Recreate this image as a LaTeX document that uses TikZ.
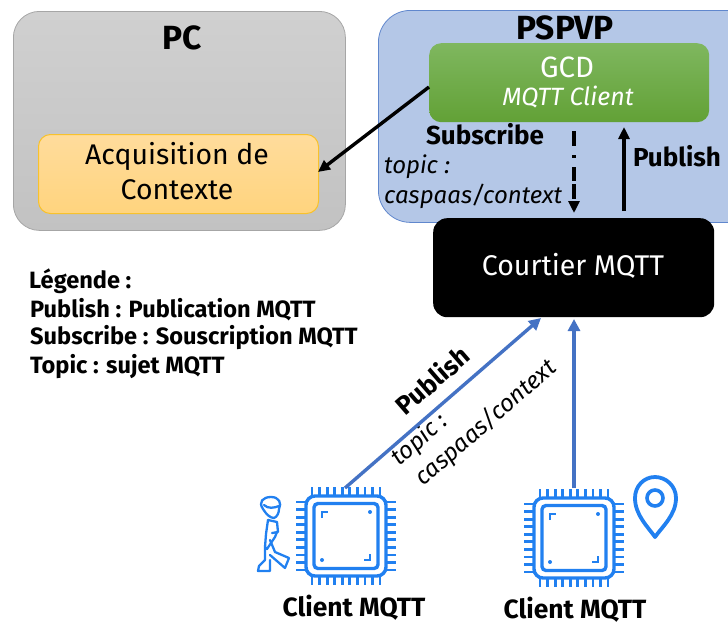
\documentclass[tikz,border=0pt]{standalone}
\usepackage{fontspec}
\setmainfont{Fira Sans}
\usetikzlibrary{arrows.meta,shadings}
\definecolor{chipblue}{HTML}{2180F0}
\definecolor{linkblue}{HTML}{4472C4}
\definecolor{pspblue}{HTML}{B4C7E7}
\definecolor{graytop}{HTML}{D0D0D0}
\definecolor{graybot}{HTML}{C2C2C2}
\definecolor{orgtop}{HTML}{FFDC9C}
\definecolor{orgbot}{HTML}{FFD47E}
\definecolor{orgline}{HTML}{F8C22C}
\definecolor{grntop}{HTML}{7FB75F}
\definecolor{grnbot}{HTML}{62A136}
\newcommand{\fs}[1]{\fontsize{#1}{#1}\selectfont}
\tikzset{
  x=1pt,y=-1pt,
  boxnode/.style={rounded corners=#1,inner sep=0pt,anchor=north west},
  txt/.style={inner sep=0pt,align=center,text=black},
  legend/.style={inner sep=0pt,anchor=west,font=\fs{23.6}\bfseries},
  clientlabel/.style={txt,font=\fs{26.4}\bfseries},
  tipblack/.style={-{Triangle[length=12pt,width=11pt]},line width=3.4pt,black},
  tipblue/.style={-{Triangle[length=12pt,width=12pt]},line width=3.4pt,linkblue},
  chipline/.style={draw=chipblue,line width=3.4pt},
  pins/.style={draw=chipblue,line width=2.8pt},
  pics/chip/.style n args={0}{code={
    \draw[chipline,rounded corners=9pt] (-40,-40) rectangle (40,40);
    \draw[chipline,rounded corners=4pt] (-32,-32.5) rectangle (32,32.5);
    \foreach \k in {-34,-26.4,-18.9,-11.3,-3.8,3.8,11.3,18.9,26.4,34}{
      \draw[pins] (\k,-40) -- (\k,-49);
      \draw[pins] (\k,40) -- (\k,49);
      \draw[pins] (-40,\k) -- (-50,\k);
      \draw[pins] (40,\k) -- (50,\k);
    }
    \draw[chipline,line width=2.6pt] (-24,-18) -- (-24,-24) -- (-18,-24);
    \draw[chipline,line width=2.6pt] (24,18) -- (24,24) -- (18,24);
    \fill[chipblue] (24,-24) circle (2pt) (-24,24) circle (2pt);
  }}
}
\begin{document}
\begin{tikzpicture}
\useasboundingbox (0,0) rectangle (728,624);
\begin{scope}
\clip (0,0) rectangle (728,624);
\node[boxnode=26pt,draw=black!35,line width=.8pt,top color=graytop,bottom color=graybot,minimum width=332pt,minimum height=219pt] (pc) at (13,11) {};
\node[boxnode=32pt,draw=linkblue!85,line width=.8pt,fill=pspblue,minimum width=390pt,minimum height=212pt] (pspvp) at (378,10) {};
\end{scope}
\node[boxnode=12pt,draw=orgline,line width=1pt,top color=orgtop,bottom color=orgbot,minimum width=280pt,minimum height=79pt] (acq) at (38,134) {};
\node[boxnode=12pt,top color=grntop,bottom color=grnbot,minimum width=280pt,minimum height=79pt] (gcd) at (429,43) {};
\node[boxnode=14pt,fill=black,minimum width=281pt,minimum height=99pt] (broker) at (433,218) {};
\node[txt,font=\fs{33.5}\bfseries] (pcl) at (182,38) {PC};
\node[txt,font=\fs{33.5}\bfseries] (pspl) at (565,28) {PSPVP};
\node[txt,text=white,font=\fs{29.4}] (gcdl) at (567,67) {GCD};
\node[txt,text=white,font=\fs{25}\itshape] (gcdm) at (568,97) {MQTT Client};
\node[txt,font=\fs{28.4}] (acql1) at (177,156) {Acquisition de};
\node[txt,font=\fs{28.4}] (acql2) at (177,190) {Contexte};
\node[txt,text=white,font=\fs{28.5}] (brl) at (573,266) {Courtier MQTT};
\node[txt,font=\fs{26}\bfseries] (sub) at (485,134) {Subscribe};
\node[txt,font=\fs{24}\itshape,anchor=west] (t1) at (384,167) {topic :};
\node[txt,font=\fs{24}\itshape,anchor=west] (t2) at (384,196) {caspaas/context};
\node[txt,font=\fs{26}\bfseries] (pub) at (677,156) {Publish};
\node[legend] (lg1) at (29,281) {Légende :};
\node[legend] (lg2) at (30,310) {Publish : Publication MQTT};
\node[legend] (lg3) at (30,338) {Subscribe : Souscription MQTT};
\node[legend] (lg4) at (30,367) {Topic : sujet MQTT};
\node[txt,font=\fs{26}\bfseries,rotate=41] (pubr) at (432,380) {Publish};
\node[txt,font=\fs{24}\itshape,rotate=41] (tr1) at (420,440) {topic :};
\node[txt,font=\fs{24}\itshape,rotate=41] (tr2) at (486,423) {caspaas/context};
\node[clientlabel] (c1) at (354,608) {Client MQTT};
\node[clientlabel] (c2) at (575,610) {Client MQTT};
\pic at (346,536) {chip};
\pic at (574,538) {chip};
\coordinate (c1top) at (345,488);
\coordinate (c2top) at (574,488);
\coordinate (b1) at (541,318);
\coordinate (b2) at (574,319);
\coordinate (gl) at (429,87);
\coordinate (ar) at (318,172);
\coordinate (gs) at (574,131);
\coordinate (bs) at (574,213);
\coordinate (bp) at (624,211);
\coordinate (gp) at (624,127);
\draw[tipblue] (c1top) -- (b1);
\draw[tipblue] (c2top) -- (b2);
\draw[tipblack] (gl) -- (ar);
\draw[tipblack,dash pattern=on 15pt off 9pt on 3pt off 9pt on 14pt off 3pt] (gs) -- (bs);
\draw[tipblack] (bp) -- (gp);
% location marker
\draw[chipblue,line width=3.8pt,line join=round] (655,537) .. controls (648,527) and (635,515) .. (635,498) .. controls (635,486) and (644,477) .. (655,477) .. controls (666,477) and (676,486) .. (676,498) .. controls (676,515) and (662,527) .. (655,537) -- cycle;
\draw[chipblue,line width=3.6pt] (655,498) circle (8pt);
% walking figure
\begin{scope}[chipblue,line width=2.3pt,line join=round,line cap=round]
\draw (263,509) .. controls (258,502) and (263,497) .. (271,497) .. controls (279,497) and (282,503) .. (279,509) .. controls (279,513) and (277,517) .. (274,518) .. controls (270,518) and (266,514) .. (263,509) -- cycle;
\draw (264,505) .. controls (268,509) and (274,508) .. (279,506);
\draw (268,520) -- (277,522) -- (278,532) -- (272,533);
\draw (268,520) -- (266,534) -- (265,547) -- (265,560);
\draw (277,532) -- (275,537) -- (267,549) -- (265,547);
\draw (270,540) -- (275,552) -- (289,558) -- (285,568) -- (270,555);
\draw (265,560) -- (259,566) -- (258,571) -- (270,571) -- (270,560);
\end{scope}
\end{tikzpicture}
\end{document}
